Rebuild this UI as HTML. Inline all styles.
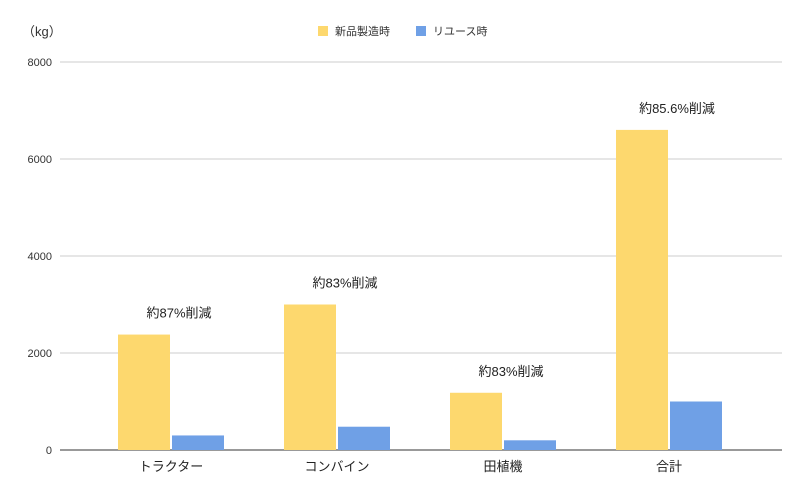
<!DOCTYPE html>
<html><head><meta charset="utf-8">
<style>
body{margin:0;background:#fff;}
svg{display:block;font-family:"Liberation Sans","Noto Sans CJK JP",sans-serif;}
</style></head>
<body>
<svg id="chart" width="806" height="499">
<text x="22" y="36" font-size="13" fill="#333">（kg）</text>
<g>
<rect x="318" y="26" width="10" height="10" fill="#fdd86e"></rect>
<text x="335" y="35" font-size="11" fill="#333">新品製造時</text>
<rect x="416" y="26" width="10" height="10" fill="#6fa0e6"></rect>
<text x="433" y="35" font-size="11" fill="#333">リユース時</text>
</g>
<g id="grid"></g><g id="bars"></g><g id="labels"></g>
</svg>
<script>
const categories=["トラクター","コンバイン","田植機","合計"];
const newValues=[2380,3000,1180,6600];
const reuseValues=[300,480,200,1000];
const annotations=["約87%削減","約83%削減","約83%削減","約85.6%削減"];
const ticks=[0,2000,4000,6000,8000];
const NS="http://www.w3.org/2000/svg";
const y0=450,yTop=62,yMax=8000,left=88,groupW=166,barW=52,gap=2;
const y=v=>y0-(v/yMax)*(y0-yTop);
const cx=i=>left+groupW*i+groupW/2;
function mk(t,a,p){const e=document.createElementNS(NS,t);for(const k in a)e.setAttribute(k,a[k]);p.appendChild(e);return e;}
const grid=document.getElementById('grid'),bars=document.getElementById('bars'),labels=document.getElementById('labels');
ticks.forEach(t=>{
 const l=mk('line',{x1:60,x2:782,y1:y(t),y2:y(t),stroke:t===0?'#333':'#ccc','stroke-width':1},grid);
 
 
 const tx=mk('text',{x:52,y:y(t)+4,'font-size':11,fill:'#333','text-anchor':'end'},grid);
 tx.textContent=t;
 
 
});
categories.forEach((c,i)=>{
 const b1=mk('rect',{x:cx(i)-barW-gap/2,y:y(newValues[i]),width:barW,height:y0-y(newValues[i]),fill:'#fdd86e'},bars);
 
 
 const b2=mk('rect',{x:cx(i)+gap/2,y:y(reuseValues[i]),width:barW,height:y0-y(reuseValues[i]),fill:'#6fa0e6'},bars);
 
 
 const xl=mk('text',{x:cx(i),y:471,'font-size':13,fill:'#222','text-anchor':'middle'},labels);
 xl.textContent=c;
 
 
 const an=mk('text',{x:cx(i)+8,y:y(newValues[i])-17,'font-size':13,fill:'#222','text-anchor':'middle'},labels);
 an.textContent=annotations[i];
 
 
});
</script>
</body></html>
